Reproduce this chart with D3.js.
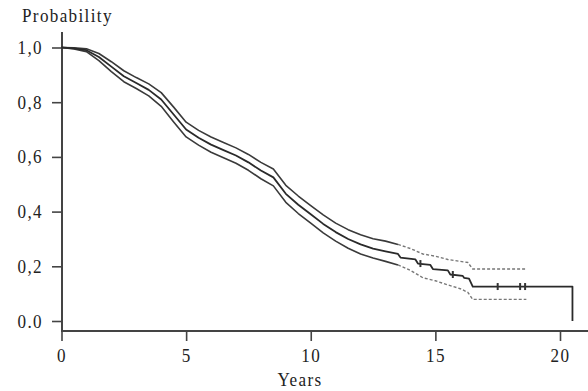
<!DOCTYPE html>
<html>
<head>
<meta charset="utf-8">
<script src="https://cdn.jsdelivr.net/npm/d3@7"></script>
<style>
  html, body { margin: 0; padding: 0; background: #fff; }
  svg { display: block; }
  text { font-family: "Liberation Serif", "Times New Roman", serif; fill: #222; }
</style>
</head>
<body>
<svg id="chart" width="588" height="391"></svg>
<script>
// ---- Data ----
const xTicks = [0, 5, 10, 15, 20];
const yTicks = [0, 0.2, 0.4, 0.6, 0.8, 1.0];
const yTickLabels = ["0.0", "0,2", "0,4", "0,6", "0,8", "1,0"];

const survYears  = [0, 0.5, 1, 1.5, 2, 2.5, 3, 3.5, 4, 4.5, 5, 5.5, 6, 6.5, 7, 7.5, 8, 8.5, 9, 9.5, 10, 10.5, 11, 11.5, 12, 12.5, 13, 13.5, 13.6, 14.2, 14.3, 14.8, 14.9, 15.5, 15.6, 16.1, 16.15, 16.35, 16.5, 20.5, 20.5];
const survValues = [1.0, 0.997, 0.99, 0.965, 0.93, 0.895, 0.87, 0.845, 0.81, 0.755, 0.70, 0.67, 0.645, 0.625, 0.605, 0.58, 0.55, 0.525, 0.465, 0.425, 0.39, 0.355, 0.325, 0.30, 0.28, 0.265, 0.255, 0.245, 0.232, 0.225, 0.21, 0.205, 0.19, 0.185, 0.17, 0.165, 0.158, 0.155, 0.126, 0.126, 0.0];

const upperYears  = [0, 0.5, 1, 1.5, 2, 2.5, 3, 3.5, 4, 4.5, 5, 5.5, 6, 6.5, 7, 7.5, 8, 8.5, 9, 9.5, 10, 10.5, 11, 11.5, 12, 12.5, 13, 13.5, 14, 14.5, 15, 15.5, 16, 16.3, 16.5, 18.65];
const upperValues = [1.0, 0.999, 0.995, 0.978, 0.948, 0.915, 0.89, 0.867, 0.835, 0.782, 0.727, 0.697, 0.673, 0.653, 0.633, 0.609, 0.58, 0.556, 0.496, 0.457, 0.422, 0.388, 0.358, 0.334, 0.315, 0.301, 0.292, 0.28, 0.265, 0.245, 0.237, 0.225, 0.218, 0.214, 0.19, 0.19];

const lowerYears  = [0, 0.5, 1, 1.5, 2, 2.5, 3, 3.5, 4, 4.5, 5, 5.5, 6, 6.5, 7, 7.5, 8, 8.5, 9, 9.5, 10, 10.5, 11, 11.5, 12, 12.5, 13, 13.5, 14, 14.5, 15, 15.5, 16, 16.3, 16.5, 18.65];
const lowerValues = [1.0, 0.995, 0.985, 0.952, 0.912, 0.875, 0.85, 0.823, 0.785, 0.728, 0.673, 0.643, 0.617, 0.597, 0.577, 0.551, 0.52, 0.494, 0.434, 0.393, 0.358, 0.322, 0.292, 0.266, 0.245, 0.23, 0.218, 0.205, 0.185, 0.158, 0.147, 0.132, 0.118, 0.105, 0.079, 0.079];

const censorYears  = [14.4, 15.7, 17.5, 18.4, 18.6];
const censorValues = [0.21, 0.17, 0.126, 0.126, 0.126];

// ---- Layout ----
const svg = d3.select("#chart");
const x = d3.scaleLinear().domain([0, 20]).range([61.5, 560]);
const y = d3.scaleLinear().domain([0, 1]).range([321, 47.5]);
const axisColor = "#444";
const fontSize = 19;
const sx = 0.9;

// axis lines
svg.append("line").attr("x1", 62).attr("x2", 62).attr("y1", 32).attr("y2", 331.5)
  .attr("stroke", axisColor).attr("stroke-width", 2);
svg.append("line").attr("x1", 61).attr("x2", 588).attr("y1", 331).attr("y2", 331)
  .attr("stroke", axisColor).attr("stroke-width", 2);

// Y axis ticks
const yAxis = d3.axisLeft(y).tickValues(yTicks).tickSize(10).tickSizeOuter(0)
  .tickFormat((d, i) => yTickLabels[i]);
const gy = svg.append("g").attr("transform", "translate(62,0)").call(yAxis);
gy.select(".domain").remove();
gy.selectAll(".tick line").attr("stroke", axisColor).attr("stroke-width", 1.6);
gy.selectAll(".tick text")
  .attr("x", null).attr("dy", null)
  .attr("transform", `translate(-19,6) scale(${sx},1)`)
  .attr("text-anchor", "end")
  .style("font-family", '"Liberation Serif", serif')
  .style("font-size", fontSize + "px")
  .style("letter-spacing", "1.5px")
  .attr("fill", "#222");

// X axis ticks
const xAxis = d3.axisBottom(x).tickValues(xTicks).tickSize(10).tickSizeOuter(0)
  .tickFormat(d3.format("d"));
const gx = svg.append("g").attr("transform", "translate(0,331)").call(xAxis);
gx.select(".domain").remove();
gx.selectAll(".tick line").attr("stroke", axisColor).attr("stroke-width", 1.6);
gx.selectAll(".tick text")
  .attr("y", null).attr("dy", null)
  .attr("transform", `translate(0,31) scale(${sx},1)`)
  .attr("text-anchor", "middle")
  .style("font-family", '"Liberation Serif", serif')
  .style("font-size", fontSize + "px")
  .style("letter-spacing", "1.5px")
  .attr("fill", "#222");

// axis titles
svg.append("text").attr("transform", `translate(22,22) scale(${sx},1)`)
  .style("font-size", fontSize + "px").style("letter-spacing", "1.5px")
  .text("Probability");
svg.append("text").attr("transform", `translate(300,386) scale(${sx},1)`)
  .attr("text-anchor", "middle")
  .style("font-size", fontSize + "px").style("letter-spacing", "1.5px")
  .text("Years");

// ---- Curves ----
const toPts = (ys, vs) => ys.map((t, i) => ({ t, v: vs[i] }));
const line = d3.line().x(d => x(d.t)).y(d => y(d.v)).curve(d3.curveLinear);

const upper = toPts(upperYears, upperValues);
const lower = toPts(lowerYears, lowerValues);
const mid = toPts(survYears, survValues);

[upper, lower].forEach(pts => {
  svg.append("path").datum(pts.filter(d => d.t <= 13.5))
    .attr("d", line).attr("fill", "none")
    .attr("stroke", "#3a3a3a").attr("stroke-width", 1.6).attr("stroke-linejoin", "round");
  svg.append("path").datum(pts.filter(d => d.t >= 13.5))
    .attr("d", line).attr("fill", "none")
    .attr("stroke", "#777").attr("stroke-width", 1.4).attr("stroke-dasharray", "3,2");
});

svg.append("path").datum(mid).attr("d", line).attr("fill", "none")
  .attr("stroke", "#2a2a2a").attr("stroke-width", 1.8).attr("stroke-linejoin", "round");

// censor marks
svg.selectAll("line.censor").data(censorYears).enter().append("line")
  .attr("class", "censor")
  .attr("x1", d => x(d)).attr("x2", d => x(d))
  .attr("y1", (d, i) => y(censorValues[i]) - 3.5)
  .attr("y2", (d, i) => y(censorValues[i]) + 3.5)
  .attr("stroke", "#333").attr("stroke-width", 2);
</script>
</body>
</html>
